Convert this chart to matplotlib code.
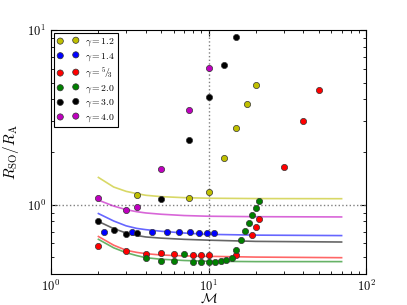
import numpy as np
import matplotlib
matplotlib.use('Agg')
import matplotlib.pyplot as plt
plt.rcParams["font.family"] = "serif"
plt.rcParams["font.serif"] = ["cmr10", "DejaVu Serif"]
plt.rcParams["mathtext.fontset"] = "cm"
plt.rcParams["axes.unicode_minus"] = False

# scatter points: (Mach number, R_SO/R_A)
M_12 = [3.5, 7.5, 10, 12.5, 15, 17.5, 20]
R_12 = [1.13, 1.087, 1.18, 1.84, 2.73, 3.76, 4.86]

M_14 = [2.17, 3.26, 4.35, 5.42, 6.5, 7.6, 8.7, 9.8, 10.9]
R_14 = [0.695, 0.695, 0.695, 0.697, 0.695, 0.695, 0.691, 0.691, 0.691]

M_53 = [2, 3, 4, 5, 6, 8, 9, 10, 15, 19, 20, 21, 30, 40, 50]
R_53 = [0.579, 0.541, 0.52, 0.527, 0.52, 0.516, 0.512, 0.512, 0.512,
        0.673, 0.748, 0.823, 1.65, 3.03, 4.53]

M_20 = [4, 5, 6, 7, 8, 9, 10, 11, 12, 13, 14, 15, 16, 17, 18, 19, 20, 21]
R_20 = [0.492, 0.477, 0.477, 0.52, 0.471, 0.467, 0.467, 0.467, 0.472, 0.479,
        0.497, 0.55, 0.624, 0.703, 0.781, 0.868, 0.952, 1.054]

M_30 = [2, 2.5, 3, 3.5, 5, 7.5, 10, 12.5, 15]
R_30 = [0.80, 0.715, 0.68, 0.69, 1.08, 2.34, 4.11, 6.32, 9.15]

M_40 = [2, 3, 3.5, 5, 7.5, 10]
R_40 = [1.09, 0.936, 0.974, 1.60, 3.46, 6.05]

# model curves, read at these Mach numbers
M_curve = [2, 2.5, 3, 3.5, 4, 5, 7, 10, 20, 70]
C_12 = [1.43, 1.26, 1.19, 1.155, 1.13, 1.11, 1.095, 1.087, 1.082, 1.08]
C_14 = [0.888, 0.805, 0.755, 0.73, 0.718, 0.703, 0.687, 0.675, 0.668, 0.664]
C_53 = [0.656, 0.585, 0.547, 0.532, 0.523, 0.514, 0.508, 0.505, 0.5, 0.496]
C_20 = [0.632, 0.565, 0.53, 0.51, 0.496, 0.486, 0.478, 0.473, 0.471, 0.471]
C_30 = [0.80, 0.728, 0.687, 0.665, 0.652, 0.642, 0.632, 0.625, 0.615, 0.61]
C_40 = [1.06, 0.98, 0.935, 0.91, 0.895, 0.88, 0.865, 0.857, 0.852, 0.849]

labels = [r'$\gamma=1.2$', r'$\gamma=1.4$', r'$\gamma={}^5\!/\!_3$',
          r'$\gamma=2.0$', r'$\gamma=3.0$', r'$\gamma=4.0$']
colors = ['y', 'b', 'r', 'g', 'k', 'm']
points = [(M_12, R_12), (M_14, R_14), (M_53, R_53), (M_20, R_20), (M_30, R_30), (M_40, R_40)]
curves = [C_12, C_14, C_53, C_20, C_30, C_40]

fig = plt.figure(figsize=(4.07, 3.05), dpi=100)
ax = fig.add_axes([51/407, 1-274/305, (366-51)/407, (274-30)/305])

ax.axhline(1, color='gray', ls=':', lw=1)
ax.axvline(10, color='gray', ls=':', lw=1)

for k in range(6):
	ax.plot(M_curve, curves[k], color=colors[k], alpha=0.6, lw=1.2, zorder=2)
for k in range(6):
	ax.scatter(points[k][0], points[k][1], s=20, c=colors[k], edgecolors='#333333',
	           linewidths=0.5, label=labels[k], zorder=3)

ax.set_xscale('log')
ax.set_yscale('log')
ax.set_xlim(1, 100)
ax.set_ylim(0.4, 10)
ax.tick_params(which='both', direction='in', top=True, right=True, labelsize=9)
ax.tick_params(which='major', length=4)
ax.tick_params(which='minor', length=2)
ax.yaxis.set_minor_formatter(matplotlib.ticker.NullFormatter())
ax.set_xlabel(r'$\mathcal{M}$', fontsize=10, labelpad=-1)
ax.set_ylabel(r'$R_{\rm SO}/R_{\rm A}$', fontsize=11)

leg = ax.legend(loc='upper left', scatterpoints=2, fontsize=7, fancybox=False,
                framealpha=1, edgecolor='k', borderaxespad=0.3, handletextpad=0.6,
                handlelength=2.2, labelspacing=0.3, borderpad=0.35)
leg.get_frame().set_linewidth(0.8)

plt.savefig('out.png', dpi=100)
